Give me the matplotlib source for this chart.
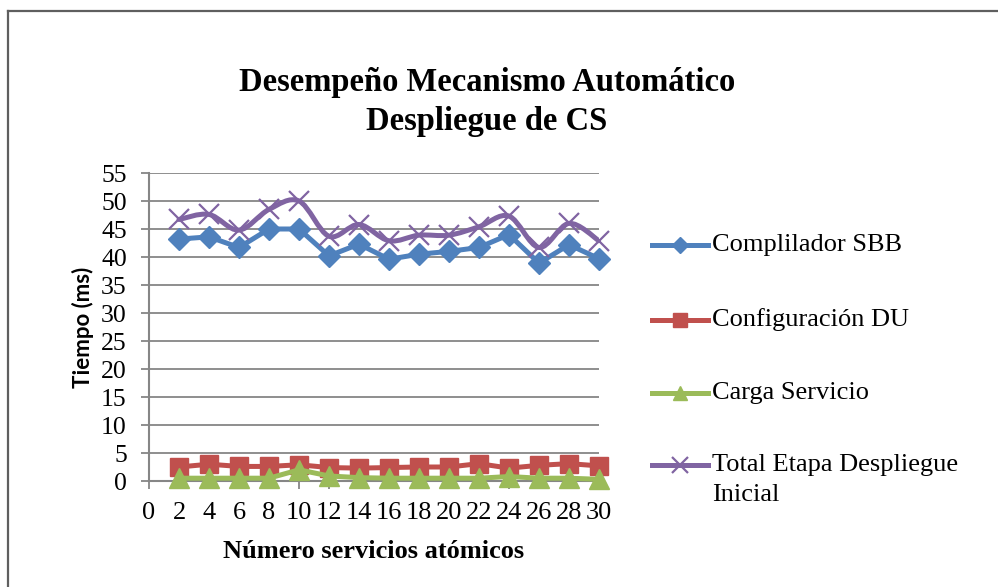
import numpy as np
import matplotlib.pyplot as plt
from matplotlib.path import Path
from matplotlib.patches import PathPatch
from matplotlib.lines import Line2D

# datos
servicios = [2, 4, 6, 8, 10, 12, 14, 16, 18, 20, 22, 24, 26, 28, 30]
compilador = [43.2, 43.6, 41.7, 45.0, 45.0, 40.2, 42.3, 39.6, 40.5, 41.0, 41.7, 44.0, 38.9, 42.2, 39.7]
configuracion = [2.5, 3.0, 2.6, 2.6, 2.9, 2.4, 2.3, 2.4, 2.5, 2.5, 3.1, 2.3, 2.8, 3.1, 2.7]
carga = [0.5, 0.5, 0.5, 0.5, 2.0, 0.9, 0.6, 0.5, 0.5, 0.5, 0.5, 0.8, 0.5, 0.5, 0.3]
total = [46.7, 47.6, 44.8, 48.5, 50.0, 43.7, 45.8, 42.9, 43.9, 43.9, 45.4, 47.3, 41.7, 46.0, 42.9]

nombres = ['Complilador SBB', 'Configuración DU', 'Carga Servicio',
           'Total Etapa Despliegue', 'Inicial']
colores = ['#4F81BD', '#C0504D', '#9BBB59', '#8064A2']
marcadores = ['D', 's', '^', 'x']
x_ticks = list(range(0, 31, 2))
y_ticks = list(range(0, 56, 5))

serif = 'Liberation Serif'
gris = '#868686'


def smooth_path(x, y):
    # curva suave tipo Excel (bezier por catmull-rom)
    pts = np.column_stack([x, y]).astype(float)
    n = len(pts)
    verts = [pts[0]]
    codes = [Path.MOVETO]
    for i in range(n - 1):
        p0 = pts[i - 1] if i > 0 else pts[i]
        p1 = pts[i]
        p2 = pts[i + 1]
        p3 = pts[i + 2] if i + 2 < n else pts[i + 1]
        verts += [p1 + (p2 - p0) / 6, p2 - (p3 - p1) / 6, p2]
        codes += [Path.CURVE4] * 3
    return Path(verts, codes)


W, H = 998, 587
fig = plt.figure(figsize=(W / 100, H / 100), dpi=100)
ax = fig.add_axes([149 / W, 1 - 481 / H, 450 / W, 308 / H])

series = [compilador, configuracion, carga, total]
tamanos = [11.5, 13, 14, 15]
for i, vals in enumerate(series):
    if i == 3:
        ax.add_patch(PathPatch(smooth_path(servicios, vals), fill=False,
                               edgecolor=colores[i], lw=3.6, zorder=3 + i,
                               capstyle='round', joinstyle='round'))
        ax.plot(servicios, vals, ls='none', marker='x', ms=tamanos[i],
                mew=1.6, color=colores[i], zorder=3 + i, clip_on=False)
    else:
        ax.plot(servicios, vals, color=colores[i], lw=3.6, marker=marcadores[i],
                ms=tamanos[i], mec=colores[i], zorder=3 + i, clip_on=False)

ax.set_xlim(0, 30)
ax.set_ylim(0, 55)
ax.set_xticks(x_ticks)
ax.set_yticks(y_ticks)
ax.set_xticklabels([str(v) for v in x_ticks], fontfamily=serif, fontsize=19)
ax.set_yticklabels([str(v) for v in y_ticks], fontfamily=serif, fontsize=18.5)
ax.tick_params(axis='x', direction='out', length=6, width=1.3, color=gris, pad=9)
ax.tick_params(axis='y', direction='out', length=6, width=1.3, color=gris, pad=10)
ax.yaxis.grid(True, color=gris, lw=1.3)
ax.set_axisbelow(True)
for s in ['top', 'right']:
    ax.spines[s].set_visible(False)
for s in ['left', 'bottom']:
    ax.spines[s].set_color(gris)
    ax.spines[s].set_linewidth(1.5)

ax.set_xlabel('Número servicios atómicos', fontfamily=serif, fontsize=19,
              fontweight='bold', labelpad=12)
ax.set_ylabel('Tiempo (ms)', fontfamily='Lato', fontsize=16,
              fontweight='bold', labelpad=5)

fig.text(487 / W, 1 - 102 / H, 'Desempeño Mecanismo Automático\nDespliegue de CS',
         ha='center', va='center', fontfamily=serif, fontsize=23.5,
         fontweight='bold', linespacing=1.35)

# leyenda a mano (estilo Excel)
leyenda_y = [245, 320, 393, 465]
for i in range(4):
    yy = 1 - leyenda_y[i] / H
    fig.add_artist(Line2D([652 / W, 708 / W], [yy, yy], color=colores[i], lw=3.6,
                          transform=fig.transFigure))
    fig.add_artist(Line2D([680 / W], [yy], marker=marcadores[i], ls='none',
                          ms=tamanos[i] * 0.75, mew=1.6 if i == 3 else 1,
                          color=colores[i], transform=fig.transFigure))
    fig.text(712 / W, yy, nombres[i], ha='left', va='center',
             fontfamily=serif, fontsize=19)
fig.text(712 / W, 1 - 495 / H, nombres[4], ha='left', va='center',
         fontfamily=serif, fontsize=19)

# marco del grafico
borde = '#5f5f5f'
fig.add_artist(Line2D([8 / W, 8 / W], [0, 1 - 11 / H], color=borde, lw=1.6,
                      transform=fig.transFigure))
fig.add_artist(Line2D([8 / W, 1], [1 - 11 / H, 1 - 11 / H], color=borde, lw=1.6,
                      transform=fig.transFigure))

fig.savefig('out.png', dpi=100)
